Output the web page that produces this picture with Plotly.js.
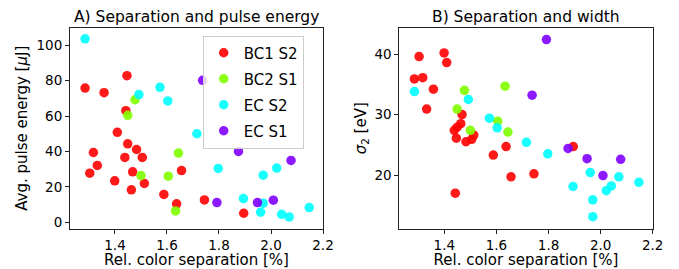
<!DOCTYPE html>
<html>
<head>
<meta charset="utf-8">
<script src="https://cdn.plot.ly/plotly-3.0.1.min.js"></script>
<style>
html,body{margin:0;padding:0;background:#fff;}
#chart{width:679px;height:269px;}
</style>
</head>
<body>
<div id="chart"></div>
<script>
// ---- data ----
var seriesNames = ["BC1 S2", "BC2 S1", "EC S2", "EC S1"];

var bc1Sep    = [1.285, 1.303, 1.317, 1.332, 1.358, 1.399, 1.409, 1.438, 1.442, 1.446, 1.449, 1.463, 1.468, 1.483, 1.505, 1.513, 1.588, 1.637, 1.656, 1.744, 1.895];
var bc1Energy = [75.8, 27.7, 39.4, 32.1, 73.2, 23.4, 50.8, 36.6, 63.0, 82.8, 44.3, 18.3, 28.5, 41.1, 36.6, 21.9, 15.7, 10.4, 29.2, 12.6, 5.1];
var bc1Sigma  = [35.9, 39.6, 36.1, 30.9, 34.2, 40.2, 38.6, 27.4, 17.0, 26.1, 27.9, 28.5, 30.0, 25.5, 25.9, 26.6, 23.3, 24.7, 19.7, 20.2, 24.7];

var bc2Sep    = [1.449, 1.477, 1.500, 1.605, 1.633, 1.644];
var bc2Energy = [60.4, 69.2, 26.4, 26.0, 6.4, 39.1];
var bc2Sigma  = [30.9, 34.0, 27.4, 28.9, 34.7, 27.1];

var ecs2Sep    = [1.285, 1.492, 1.573, 1.603, 1.715, 1.797, 1.894, 1.960, 1.970, 1.970, 2.022, 2.041, 2.070, 2.147];
var ecs2Energy = [103.6, 72.1, 76.2, 68.5, 50.0, 30.4, 13.4, 5.7, 26.6, 10.8, 30.6, 4.5, 3.0, 8.3];
var ecs2Sigma  = [33.8, 32.5, 29.4, 27.8, 25.4, 23.5, 18.1, 20.4, 15.9, 13.1, 17.4, 18.2, 19.7, 18.8];

var ecs1Sep    = [1.737, 1.792, 1.875, 1.948, 2.009, 2.077];
var ecs1Energy = [80.2, 11.1, 40.0, 11.1, 12.5, 34.9];
var ecs1Sigma  = [33.2, 42.4, 24.4, 22.7, 19.9, 22.6];

var xTicks = [1.4, 1.6, 1.8, 2.0, 2.2];
var energyTicks = [0, 20, 40, 60, 80, 100];
var sigmaTicks = [20, 30, 40];

// ---- styling ----
var colors = ["rgb(255,0,0)", "rgb(128,255,0)", "rgb(0,255,255)", "rgb(128,0,255)"];
var FONT = "DejaVu Sans, sans-serif";

var groups = [
  [bc1Sep, bc1Energy, bc1Sigma],
  [bc2Sep, bc2Energy, bc2Sigma],
  [ecs2Sep, ecs2Energy, ecs2Sigma],
  [ecs1Sep, ecs1Energy, ecs1Sigma]
];

var traces = [];
groups.forEach(function(g, i){
  traces.push({
    type: "scatter", mode: "markers", x: g[0], y: g[1],
    xaxis: "x", yaxis: "y", name: seriesNames[i], legendgroup: "g" + i,
    marker: {color: colors[i], size: 9.5, opacity: 0.9, line: {width: 0}},
    showlegend: true, hoverinfo: "skip"
  });
});
groups.forEach(function(g, i){
  traces.push({
    type: "scatter", mode: "markers", x: g[0], y: g[2],
    xaxis: "x2", yaxis: "y2", name: seriesNames[i], legendgroup: "g" + i,
    marker: {color: colors[i], size: 9.5, opacity: 0.9, line: {width: 0}},
    showlegend: false, hoverinfo: "skip"
  });
});

var W = 679, H = 269;
function ax(extra){
  var base = {
    showline: true, mirror: true, linecolor: "#222", linewidth: 1,
    ticks: "outside", ticklen: 4, tickwidth: 1, tickcolor: "#222",
    showgrid: false, zeroline: false,
    tickfont: {family: FONT, size: 13.5, color: "#000"},
    fixedrange: true
  };
  for (var k in extra) base[k] = extra[k];
  return base;
}
var yDom = [1 - 229/H, 1 - 27.5/H];

var layout = {
  width: W, height: H,
  margin: {l: 0, r: 0, t: 0, b: 0},
  paper_bgcolor: "#fff", plot_bgcolor: "#fff",
  font: {family: FONT, color: "#000"},
  showlegend: true,
  legend: {
    x: 202.7/W, y: 1 - 35.5/H, xanchor: "left", yanchor: "top",
    bgcolor: "rgba(255,255,255,0.8)", bordercolor: "#cccccc", borderwidth: 1,
    tracegroupgap: 3.5,
    font: {family: FONT, size: 15, color: "#000"}
  },
  xaxis: ax({domain: [70/W, 323/W], anchor: "y", range: [1.227, 2.2],
    tickvals: xTicks, tickformat: ".1f",
    title: {text: "Rel. color separation [%]", font: {family: FONT, size: 15}, standoff: 7}}),
  yaxis: ax({domain: yDom, anchor: "x", range: [-3.8, 110],
    tickvals: energyTicks,
    title: {text: "Avg. pulse energy [<i>μ</i>J]", font: {family: FONT, size: 15}, standoff: 5}}),
  xaxis2: ax({domain: [399.3/W, 652.7/W], anchor: "y2", range: [1.227, 2.2],
    tickvals: xTicks, tickformat: ".1f",
    title: {text: "Rel. color separation [%]", font: {family: FONT, size: 15}, standoff: 7}}),
  yaxis2: ax({domain: yDom, anchor: "x2", range: [11.07, 44.4],
    tickvals: sigmaTicks,
    title: {text: "<i>σ</i><sub>2</sub> [eV]", font: {family: FONT, size: 15}, standoff: 4}}),
  annotations: [
    {text: "A) Separation and pulse energy", xref: "paper", yref: "paper",
     x: (70 + 323)/2/W, y: 1 - 17/H, xanchor: "center", yanchor: "middle",
     showarrow: false, font: {family: FONT, size: 15.5, color: "#000"}},
    {text: "B) Separation and width", xref: "paper", yref: "paper",
     x: (399.3 + 652.7)/2/W, y: 1 - 17/H, xanchor: "center", yanchor: "middle",
     showarrow: false, font: {family: FONT, size: 15.5, color: "#000"}}
  ]
};

Plotly.newPlot("chart", traces, layout, {displayModeBar: false, staticPlot: true});
</script>
</body>
</html>
